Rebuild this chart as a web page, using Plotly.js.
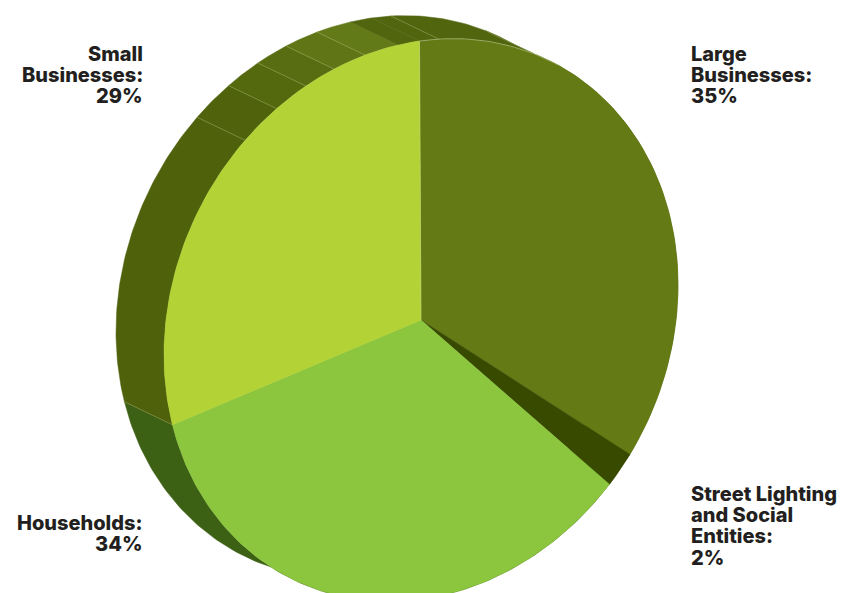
<!DOCTYPE html>
<html>
<head>
<meta charset="utf-8">
<script src="https://cdn.plot.ly/plotly-3.0.1.min.js"></script>
<style>html,body{margin:0;padding:0;background:#fff}#chart{width:864px;height:593px}</style>
</head>
<body>
<div id="chart"></div>
<script>
// Electricity consumers by segment, shown as a tilted disc.
const categories = ['Large Businesses', 'Street Lighting and Social Entities', 'Households', 'Small Businesses'];
const shares = [35, 2, 34, 29];
const topColors = ['#647a15', '#374a00', '#8cc63f', '#b2d235'];

// Rim facets: cumulative percent around the disc and the shade of each facet.
const rimStops = [0, 1.2, 7.3, 35, 37, 71, 88.1, 90.6, 92.7, 94.6, 96.6, 98.7, 100];
const rimColors = ['#50650e', '#50650e', '#50650e', '#374a00', '#3c6014', '#4f610b', '#50630c', '#54680e', '#586d11', '#5f7516', '#637a18', '#50650e'];
const rimSeams = [1.2, 7.3, 71, 88.1, 90.6, 92.7, 94.6, 96.6];

// Text beside the disc, one entry per drawn line.
const labelLines = [
  ['Small', 142, 54, 'right'], ['Businesses:', 142, 75, 'right'], ['29%', 142, 96, 'right'],
  ['Large', 691, 54, 'left'], ['Businesses:', 691, 75, 'left'], ['35%', 691, 96, 'left'],
  ['Street Lighting', 691, 494, 'left'], ['and Social', 691, 515, 'left'], ['Entities:', 691, 536, 'left'], ['2%', 691, 558, 'left'],
  ['Households:', 142, 523, 'right'], ['34%', 142, 544, 'right']
];

// Disc projection: the page position of a point at a given percent around the rim.
const centre = [421, 320];
const axisA = [257, -36.6];
const axisB = [-1.5, -279];
const depth = [-48, -23];

function rimPoint(pct, shift) {
  const t = pct / 100 * 2 * Math.PI;
  const s = Math.sin(t), c = Math.cos(t);
  return [centre[0] + axisA[0] * s + axisB[0] * c + (shift ? depth[0] : 0),
          centre[1] + axisA[1] * s + axisB[1] * c + (shift ? depth[1] : 0)];
}
function arc(from, to, shift) {
  const n = Math.max(2, Math.ceil((to - from) * 4));
  const pts = [];
  for (let i = 0; i <= n; i++) pts.push(rimPoint(from + (to - from) * i / n, shift));
  return pts;
}
function polygon(pts, color, name) {
  return {
    type: 'scatter', mode: 'lines', fill: 'toself', fillcolor: color, name: name,
    x: pts.map(p => p[0]), y: pts.map(p => p[1]),
    line: {color: color, width: 0.5},
    hoverinfo: 'name', showlegend: false
  };
}

const traces = [];

// Rim first, so the top face covers whatever falls behind it.
rimColors.forEach((color, i) => {
  const a = rimStops[i], b = rimStops[i + 1];
  const pts = arc(a, b, false).concat(arc(a, b, true).reverse());
  pts.push(pts[0]);
  traces.push(polygon(pts, color, 'rim'));
});
rimSeams.forEach(pct => {
  const p = rimPoint(pct, false), q = rimPoint(pct, true);
  traces.push({
    type: 'scatter', mode: 'lines', x: [p[0], q[0]], y: [p[1], q[1]],
    line: {color: 'rgba(190,205,140,0.6)', width: 0.5},
    hoverinfo: 'skip', showlegend: false
  });
});

// Top face, one wedge per category.
let running = 0;
shares.forEach((share, i) => {
  const pts = [centre].concat(arc(running, running + share, false));
  pts.push(centre);
  traces.push(polygon(pts, topColors[i], categories[i] + ': ' + share + '%'));
  running += share;
});

// Pale hairlines along the upper edge and left side of the largest wedge.
const edge = arc(0, 9, false);
traces.push({
  type: 'scatter', mode: 'lines', x: edge.map(p => p[0]), y: edge.map(p => p[1]),
  line: {color: 'rgba(205,215,170,0.8)', width: 0.6}, hoverinfo: 'skip', showlegend: false
});
const divider = [centre, rimPoint(0, false)];
traces.push({
  type: 'scatter', mode: 'lines', x: divider.map(p => p[0]), y: divider.map(p => p[1]),
  line: {color: 'rgba(205,215,170,0.6)', width: 0.6}, hoverinfo: 'skip', showlegend: false
});

const annotations = labelLines.map(([text, x, y, align]) => ({
  text: text, x: x, y: y, xref: 'x', yref: 'y',
  xanchor: align, yanchor: 'middle', align: align, showarrow: false,
  xshift: align === 'right' ? 3 : -2,
  font: {family: 'Inter, "Open Sans", sans-serif', size: 20, weight: 800, color: '#231f20'}
}));

const hiddenAxis = {visible: false, fixedrange: true};
Plotly.newPlot('chart', traces, {
  width: 864, height: 593,
  margin: {l: 0, r: 0, t: 0, b: 0},
  paper_bgcolor: '#ffffff', plot_bgcolor: '#ffffff',
  xaxis: Object.assign({range: [0, 864]}, hiddenAxis),
  yaxis: Object.assign({range: [593, 0]}, hiddenAxis),
  annotations: annotations,
  showlegend: false
}, {displayModeBar: false, staticPlot: true});
</script>
</body>
</html>
